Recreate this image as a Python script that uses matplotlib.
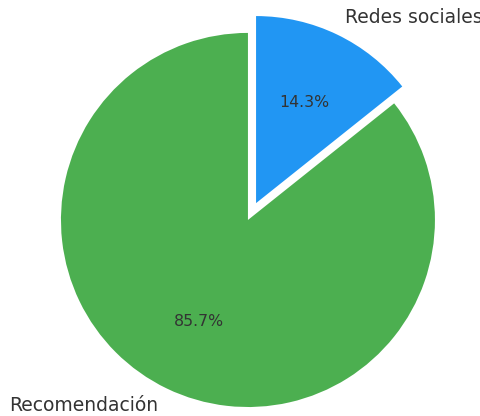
import matplotlib
matplotlib.use("Agg")
import matplotlib.pyplot as plt

# Source of customers
labels = ["Redes sociales", "Recomendación"]
values = [1, 6]
colors = ["#2196F3", "#4CAF50"]
explode = [0.1, 0.0]

fig = plt.figure(figsize=(4.8, 4.16), dpi=100)
ax = fig.add_axes([0, 0, 1, 1])

wedges, texts, autotexts = ax.pie(
    values,
    labels=labels,
    colors=colors,
    explode=explode,
    startangle=90,
    counterclock=False,
    autopct="%1.1f%%",
    pctdistance=0.6,
    labeldistance=1.1,
    textprops={"color": "#333333"},
)
for t in texts:
    t.set_fontsize(13.5)
for t in autotexts:
    t.set_fontsize(11.3)

ax.set_aspect("auto")
ax.set_xlim(-1.326, 1.241)
ax.set_ylim(-1.048, 1.176)
ax.axis("off")

fig.savefig("out.png", dpi=100)
